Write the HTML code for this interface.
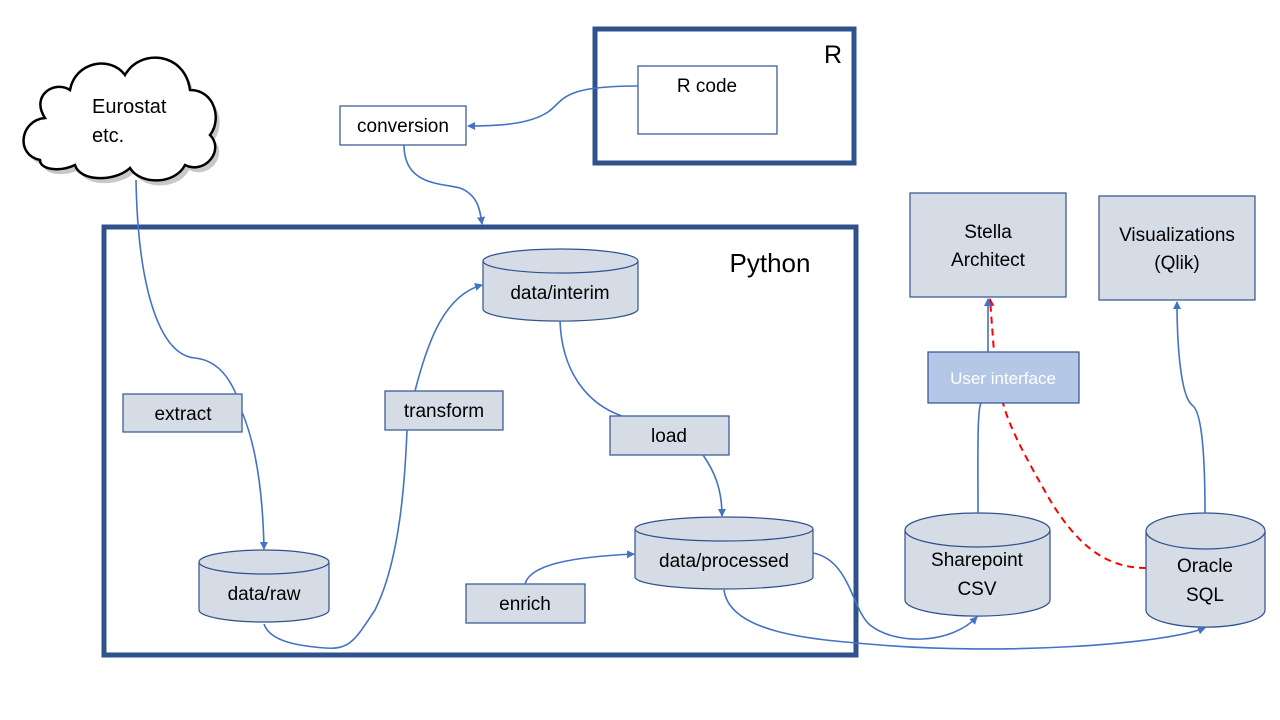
<!DOCTYPE html>
<html><head><meta charset="utf-8"><style>
html,body{margin:0;padding:0;background:#fff;}
svg{display:block;font-family:"Liberation Sans",sans-serif;}
</style></head><body>
<svg width="1280" height="720" viewBox="0 0 1280 720" xmlns="http://www.w3.org/2000/svg">
<defs>
<marker id="a" markerWidth="8" markerHeight="8" refX="7" refY="4" orient="auto" markerUnits="userSpaceOnUse"><path d="M0,0 L8,4 L0,8 Z" fill="#4472C4"/></marker>
<marker id="r" markerWidth="8" markerHeight="8" refX="7" refY="4" orient="auto" markerUnits="userSpaceOnUse"><path d="M0,0 L8,4 L0,8 Z" fill="#FF0000"/></marker>
</defs>
<rect x="595" y="29" width="259" height="134" fill="none" stroke="#2F528F" stroke-width="5"/>
<text x="833" y="63" font-size="25" text-anchor="middle">R</text>
<rect x="104" y="227" width="752" height="428" fill="none" stroke="#2F528F" stroke-width="5"/>
<text x="770" y="272" font-size="26" text-anchor="middle">Python</text>

<g transform="translate(4,5)" fill="#c8c8c8" stroke="none">
<path d="M40,160 C15,155 20,120 45,118 C30,95 55,80 70,90 C75,62 110,55 125,75 C140,48 185,52 190,90 C215,90 222,120 210,135 C225,150 205,175 185,165 C175,185 140,185 130,168 C115,182 80,182 75,165 C60,172 40,170 40,160 Z"/>
</g>
<path d="M40,160 C15,155 20,120 45,118 C30,95 55,80 70,90 C75,62 110,55 125,75 C140,48 185,52 190,90 C215,90 222,120 210,135 C225,150 205,175 185,165 C175,185 140,185 130,168 C115,182 80,182 75,165 C60,172 40,170 40,160 Z" fill="#fff" stroke="#000" stroke-width="2.5"/>
<text x="92" y="113" font-size="20">Eurostat</text>
<text x="92" y="142" font-size="20">etc.</text>

<path d="M1146,568 C1110,568 1080,550 1050,500 C1030,465 1010,430 1003,403 L994,352 L990,299" fill="none" stroke="#FF0000" stroke-width="2" stroke-dasharray="7,5" marker-end="url(#r)"/>

<g stroke="#2F528F" stroke-width="1.2">
<rect x="638" y="66" width="139" height="68" fill="#fff"/>
<rect x="340" y="106" width="126" height="39" fill="#fff"/>
<rect x="123" y="394" width="119" height="38" fill="#D6DCE5"/>
<rect x="385" y="391" width="118" height="39" fill="#D6DCE5"/>
<rect x="610" y="416" width="119" height="39" fill="#D6DCE5"/>
<rect x="466" y="584" width="119" height="39" fill="#D6DCE5"/>
<rect x="910" y="193" width="156" height="104" fill="#D6DCE5"/>
<rect x="1099" y="196" width="156" height="104" fill="#D6DCE5"/>
<rect x="928" y="352" width="151" height="51" fill="#B4C7E7"/>
</g>
<g font-size="19" text-anchor="middle">
<text x="707" y="92">R code</text>
<text x="403" y="132">conversion</text>
<text x="183" y="420">extract</text>
<text x="444" y="417">transform</text>
<text x="669" y="442">load</text>
<text x="525" y="610">enrich</text>
<text x="988" y="238">Stella</text>
<text x="988" y="266">Architect</text>
<text x="1177" y="241">Visualizations</text>
<text x="1177" y="269">(Qlik)</text>
<text x="1003" y="384" fill="#fff" font-size="17">User interface</text>
</g>

<g stroke="#2F528F" stroke-width="1.2" fill="#D6DCE5">
<path d="M483,261 L483,309 A77,12 0 0 0 638,309 L638,261"/><ellipse cx="560.5" cy="261" rx="77.5" ry="12"/>
<path d="M199,562 L199,610 A65,12 0 0 0 329,610 L329,562"/><ellipse cx="264" cy="562" rx="65" ry="12"/>
<path d="M635,529 L635,577 A89,12 0 0 0 813,577 L813,529"/><ellipse cx="724" cy="529" rx="89" ry="12"/>
<path d="M905,530 L905,600 A72,16 0 0 0 1050,600 L1050,530"/><ellipse cx="977.5" cy="530" rx="72.5" ry="17"/>
<path d="M1146,531 L1146,610 A59,17 0 0 0 1265,610 L1265,531"/><ellipse cx="1205.5" cy="531" rx="59.5" ry="18"/>
</g>
<g font-size="19" text-anchor="middle">
<text x="560" y="299">data/interim</text>
<text x="264" y="600">data/raw</text>
<text x="724" y="567">data/processed</text>
<text x="977" y="566">Sharepoint</text>
<text x="977" y="595">CSV</text>
<text x="1205" y="572">Oracle</text>
<text x="1205" y="601">SQL</text>
</g>

<g fill="none" stroke="#4472C4" stroke-width="1.6">
<path d="M638,86 C560,86 565,100 548,112 C530,124 500,126 468,126" marker-end="url(#a)"/>
<path d="M404,145 C404,185 440,183 460,188 C478,195 480,210 482,224" marker-end="url(#a)"/>
<path d="M136,180 C138,290 160,355 195,358 C215,360 228,375 236,394"/>
<path d="M242,412 C258,450 263,500 264,549" marker-end="url(#a)"/>
<path d="M264,624 C270,642 300,646 325,648 C350,650 355,640 375,610 C400,560 405,480 407,430"/>
<path d="M415,391 C428,340 445,295 482,285" marker-end="url(#a)"/>
<path d="M560,321 C562,375 590,405 622,416"/>
<path d="M703,455 C715,472 722,490 722,516" marker-end="url(#a)"/>
<path d="M525,584 C530,565 570,557 634,554" marker-end="url(#a)"/>
<path d="M813,553 C850,560 852,610 870,625 C895,645 950,645 977,617" marker-end="url(#a)"/>
<path d="M724,590 C730,635 820,640 880,645 C1000,655 1160,645 1205,628" marker-end="url(#a)"/>
<path d="M978,513 C978,460 977,410 981,403"/>
<path d="M988,352 L988,299" marker-end="url(#a)"/>
<path d="M1205,513 C1205,440 1200,410 1192,405 C1180,395 1177,340 1177,302" marker-end="url(#a)"/>
</g>
</svg>
</body></html>
